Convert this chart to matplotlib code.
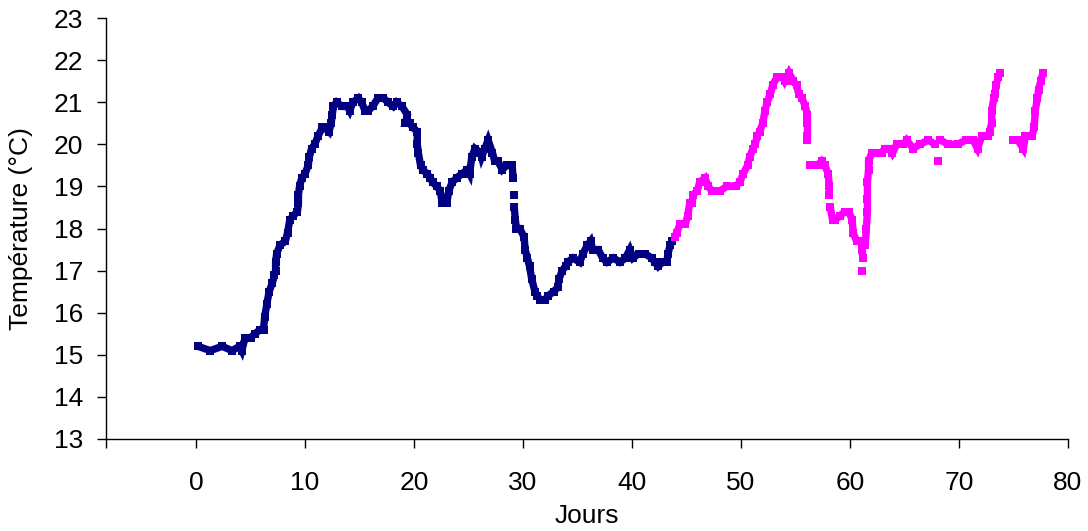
import numpy as np
import matplotlib
matplotlib.use("Agg")
import matplotlib.pyplot as plt

plt.rcParams['font.family'] = ['Liberation Sans', 'DejaVu Sans']

nan = np.nan

# first period (navy), days / temperature in degC, nan = gap in the record
jours_1 = [0.2, 1.3, 2.4, 3.3, 4.0, 4.2, 4.5, 5.0, 5.4, 5.9, 6.2, 6.3, 6.5, 6.7,
           7.0, 7.2, 7.3, 7.3, 7.4, 7.7, 8.2, 8.4, 8.6, 8.9, 9.3, 9.4, 9.4, 9.5,
           9.7, 10.0, 10.3, 10.4, 10.6, 10.9, 11.2, 11.6, 11.8, 12.2, 12.4, 12.5,
           12.6, 12.9, 13.4, 13.9, 14.1, 14.4, 14.9, 15.2, 15.5, 15.8, 16.2, 16.7,
           17.2, 17.6, 18.1, 18.4, 18.9, 19.4, 19.2, 19.6, 19.9, 20.3, 20.3, 20.4,
           20.6, 20.8, 21.2, 21.5, 21.7, 22.1, 22.4, 22.6, 23.0, 23.2, 23.5, 23.9,
           24.4, 24.9, 25.1, 25.3, 25.6, 26.1, 26.2, 26.5, 26.8, 27.2, 27.4, 27.7,
           28.1, 28.5, 29.0, 29.1, nan, 29.2, nan, 29.2, 29.3, 29.4, 29.7, 30.1,
           30.2, 30.4, 30.6, 30.8, 31.1, 31.3, 31.6, 32.0, 32.3, 32.8, 33.2, 33.3,
           33.6, 33.9, 34.1, 34.6, 35.2, 35.5, 35.9, 36.2, 36.4, 36.9, 37.3, 37.7,
           38.3, 38.9, 39.4, 39.8, 40.1, 40.6, 41.2, 41.8, 42.1, 42.4, 42.8, 43.2,
           43.3, 43.5, 43.7]
temp_1 = [15.2, 15.1, 15.2, 15.1, 15.2, 15.1, 15.4, 15.4, 15.5, 15.6, 15.6, 15.9,
          16.2, 16.5, 16.7, 16.9, 17.0, 17.2, 17.4, 17.6, 17.7, 17.9, 18.2, 18.3,
          18.4, 18.6, 18.8, 19.0, 19.2, 19.3, 19.5, 19.7, 19.9, 20.0, 20.2, 20.4,
          20.4, 20.3, 20.5, 20.7, 20.9, 21.0, 20.9, 20.9, 20.8, 21.0, 21.1, 21.0,
          20.8, 20.8, 20.9, 21.1, 21.1, 21.0, 20.9, 21.0, 20.9, 20.7, 20.5, 20.5,
          20.4, 20.3, 20.0, 19.8, 19.5, 19.4, 19.3, 19.2, 19.1, 19.0, 18.9, 18.6,
          18.6, 18.9, 19.1, 19.2, 19.3, 19.4, 19.3, 19.7, 19.9, 19.8, 19.7, 19.9,
          20.1, 19.8, 19.6, 19.6, 19.4, 19.5, 19.5, 19.2, nan, 18.8, nan, 18.5,
          18.2, 18.0, 18.0, 17.8, 17.5, 17.3, 17.1, 16.8, 16.5, 16.4, 16.3, 16.3,
          16.4, 16.5, 16.6, 16.8, 17.0, 17.1, 17.2, 17.3, 17.2, 17.4, 17.6, 17.7,
          17.5, 17.5, 17.3, 17.2, 17.3, 17.2, 17.3, 17.5, 17.3, 17.4, 17.4, 17.3,
          17.2, 17.1, 17.2, 17.2, 17.4, 17.6, 17.7]

# second period (magenta)
jours_2 = [43.9, 44.1, 44.4, 44.9, 45.1, 45.3, 45.5, 45.6, 46.0, 46.2, 46.7, 47.0,
           47.3, nan, 48.1, 48.7, 49.5, 49.9, 50.2, 50.6, 50.8, 51.1, 51.3, 51.5,
           51.7, 52.0, 52.2, 52.4, 52.7, 52.9, 53.3, 53.8, 54.0, 54.4, 54.8, 55.1,
           55.3, 55.6, 55.9, 56.1, 56.1, 56.1, 56.1, nan, 56.3, 57.0, 57.4, 57.7,
           58.0, 58.1, 58.1, nan, 58.2, 58.4, 58.6, 59.1, 59.5, 59.9, 60.2, 60.3,
           60.6, 61.0, 61.1, 61.2, nan, 61.1, nan, 61.4, 61.5, 61.6, 61.6, 61.6,
           61.7, 61.7, 62.0, 62.5, 62.9, 63.2, 63.7, 63.9, 64.3, 64.9, 65.2, 65.8,
           66.4, 67.2, 67.8, nan, 68.1, nan, 68.3, 69.0, 69.9, 70.6, 71.3, 71.7,
           72.1, 72.7, 72.8, 73.0, 73.0, 73.2, 73.3, 73.4, 73.6, 73.8, nan, 75.0,
           75.4, 75.9, 76.1, 76.7, 76.9, 77.0, 77.2, 77.3, 77.5, 77.7]
temp_2 = [17.8, 17.9, 18.1, 18.1, 18.3, 18.6, 18.6, 18.8, 18.9, 19.1, 19.2, 19.0,
          18.9, nan, 18.9, 19.0, 19.0, 19.1, 19.3, 19.5, 19.7, 19.9, 20.0, 20.2,
          20.3, 20.5, 20.8, 21.0, 21.2, 21.4, 21.6, 21.6, 21.5, 21.7, 21.5, 21.4,
          21.2, 21.1, 20.9, 20.7, 20.5, 20.2, 20.1, nan, 19.5, 19.5, 19.6, 19.5,
          19.3, 19.0, 18.8, nan, 18.5, 18.2, 18.2, 18.3, 18.4, 18.4, 18.2, 17.9,
          17.7, 17.7, 17.5, 17.3, nan, 17.0, nan, 17.6, 18.0, 18.4, 18.7, 19.1,
          19.4, 19.6, 19.8, 19.8, 19.8, 19.9, 19.9, 19.8, 20.0, 20.0, 20.1, 19.9,
          20.0, 20.1, 20.0, nan, 19.6, nan, 20.1, 20.0, 20.0, 20.1, 20.1, 19.9,
          20.2, 20.2, 20.3, 20.5, 20.8, 21.1, 21.2, 21.4, 21.6, 21.7, nan, 20.1,
          20.1, 19.9, 20.2, 20.2, 20.4, 20.8, 21.1, 21.3, 21.5, 21.7]

fig = plt.figure(figsize=(10.88, 5.31), dpi=100)
ax = fig.add_axes([0.0974, 0.1733, 0.8842, 0.7927])

style = dict(lw=5.3, marker='s', ms=5.4, mew=0, solid_joinstyle='miter',
             solid_capstyle='butt')
ax.plot(jours_1, temp_1, color='#000080', **style)
ax.plot(jours_2, temp_2, color='#FF00FF', **style)

ax.set_xlim(-8.26, 80)
ax.set_ylim(13, 23)
ax.set_xticks(range(0, 81, 10))
ax.set_xticks([-8.26], minor=True)
ax.set_yticks(range(13, 24))

for s in ['top', 'right']:
    ax.spines[s].set_visible(False)
for s in ['left', 'bottom']:
    ax.spines[s].set_linewidth(1.0)

ax.tick_params(axis='both', which='both', direction='out', length=6.3, width=1.0,
               labelsize=19)
ax.tick_params(axis='x', which='both', pad=17)
ax.tick_params(axis='y', pad=10)

ax.set_xlabel('Jours', fontsize=19, labelpad=6)
ax.set_ylabel('Température (°C)', fontsize=19, labelpad=15)

fig.savefig('out.png', dpi=100)
